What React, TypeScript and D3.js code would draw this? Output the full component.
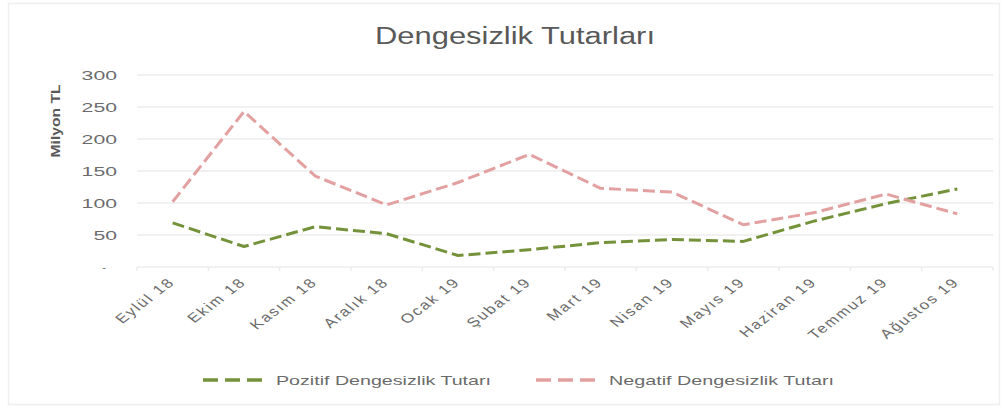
import { useMemo } from 'react';
import * as d3 from 'd3';

const MARGIN = { top: 75, left: 137 };

const size = { width: 1005, height: 407 };

const color = {
  grid: '#ececec',
  title: '#595959',
  text: '#6b6b6b',
  pozitif: '#74923a',
  negatif: '#e3a0a0',
  border: '#efefef',
};

const months = [
  'Eylül 18', 'Ekim 18', 'Kasım 18', 'Aralık 18', 'Ocak 19', 'Şubat 19',
  'Mart 19', 'Nisan 19', 'Mayıs 19', 'Haziran 19', 'Temmuz 19', 'Ağustos 19',
];
const pozitif = [69, 32, 63, 52, 18, 27, 38, 43, 40, 72, 99, 122];
const negatif = [102, 243, 142, 97, 132, 176, 123, 117, 66, 85, 114, 83];
const yTicks = [0, 50, 100, 150, 200, 250, 300];

const series = [
  { name: 'Pozitif Dengesizlik Tutarı', values: pozitif, color: color.pozitif, legendX: 203, textLen: 215 },
  { name: 'Negatif Dengesizlik Tutarı', values: negatif, color: color.negatif, legendX: 536, textLen: 225 },
];

const FONT = '"Liberation Sans", Arial, sans-serif';

const App = () => {
  const plotWidth = 856;
  const plotHeight = 192;

  const xScale = useMemo(() => d3.scaleBand<string>().domain(months).range([0, plotWidth]), []);
  const yScale = useMemo(() => d3.scaleLinear().domain([0, 300]).range([plotHeight, 0]), []);
  const cx = (i: number) => (xScale(months[i]) || 0) + xScale.bandwidth() / 2;

  const line = d3
    .line<number>()
    .x((_, i) => cx(i))
    .y(d => yScale(d));

  return (
    <div style={{ position: 'absolute', left: 0, top: 0 }}>
      <svg width={size.width} height={size.height} style={{ display: 'block', fontFamily: FONT }}>
        <rect x={8.5} y={3.5} width={991} height={401} fill="#fff" stroke={color.border} strokeWidth={1.5} />
        <text x={375} y={44} fontSize={23} fill={color.title} textLength={280} lengthAdjust="spacingAndGlyphs">
          Dengesizlik Tutarları
        </text>
        <text
          transform={`translate(60,121) rotate(-90)`}
          textAnchor="middle"
          fontSize={12}
          fontWeight={700}
          fill={color.title}
          textLength={73}
          lengthAdjust="spacingAndGlyphs"
        >
          Milyon TL
        </text>
        <g transform={`translate(${MARGIN.left},${MARGIN.top})`}>
          {yTicks.map(t => (
            <g key={t}>
              <line x1={0} x2={plotWidth} y1={yScale(t)} y2={yScale(t)} stroke={color.grid} strokeWidth={1.5} />
              {t === 0 ? (
                <text x={-33} y={yScale(t) + 4} textAnchor="middle" fontSize={11} fill={color.text}>
                  -
                </text>
              ) : (
                <text
                  x={-20}
                  y={yScale(t) + 5}
                  textAnchor="end"
                  fontSize={12}
                  fill={color.text}
                  textLength={String(t).length * 11.8}
                  lengthAdjust="spacingAndGlyphs"
                >
                  {t}
                </text>
              )}
            </g>
          ))}
          {[...months.map(m => xScale(m) || 0), plotWidth].map((x, i) => (
            <line key={i} x1={x} x2={x} y1={yScale(0)} y2={yScale(0) + 4} stroke={color.grid} strokeWidth={1.5} />
          ))}
          {months.map((m, i) => (
            <text
              key={m}
              transform={`translate(${cx(i) + 3},${yScale(0) + 16}) scale(1.3,1) rotate(-45)`}
              textAnchor="end"
              fontSize={13}
              letterSpacing={1.5}
              fill={color.text}
            >
              {m}
            </text>
          ))}
          {series.map(s => (
            <path
              key={s.name}
              d={line(s.values) || ''}
              fill="none"
              stroke={s.color}
              strokeWidth={3}
              strokeDasharray="12,5"
              strokeLinejoin="round"
            />
          ))}
        </g>
        {series.map(s => (
          <g key={s.name} transform={`translate(${s.legendX},380)`}>
            <line x1={0} x2={61} y1={0} y2={0} stroke={s.color} strokeWidth={3.5} strokeDasharray="15,7" />
            <text
              x={73}
              y={5}
              fontSize={13}
              fill={color.text}
              textLength={s.textLen}
              lengthAdjust="spacingAndGlyphs"
            >
              {s.name}
            </text>
          </g>
        ))}
      </svg>
    </div>
  );
};

export default App;
